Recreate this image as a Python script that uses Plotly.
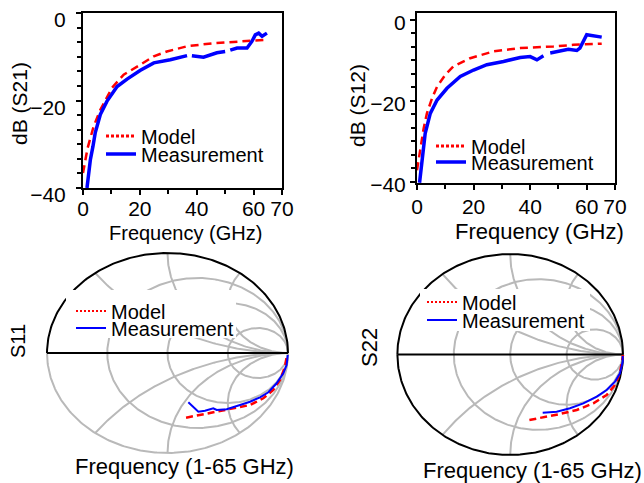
import numpy as np
import plotly.graph_objects as go

FONT = "Liberation Sans, Arial, sans-serif"
RED = "#FF0000"
BLUE = "#0000FF"
GRID = "#B9B9B9"

# ---------------- data: transmission (GHz, dB) ----------------
s21_model_f = [0, 1.6, 3.75, 6.1, 10.2, 14.3, 20.2, 24.9, 29.5, 36.6, 46, 55.4, 64.7]
s21_model_db = [-36.6, -30.9, -25.9, -22.1, -17.1, -14.1, -11.8, -9.9, -8.8, -7.6, -6.9, -6.5, -6.1]
s21_meas_f = [1.4, 2.0, 2.6, 3.5, 4.3, 6.1, 8.4, 12, 15.5, 20.2, 24.9, 30.7, 36.6, None,
              38.3, 40.1, 42.4, 47.1, 50, None, 51.8, 54.2, 57.7, 59.4, 60.6, 61.8, 63, 64.7]
s21_meas_db = [-40, -36.6, -33.5, -30.5, -27.4, -23.2, -20.2, -16.8, -15.1, -13.1, -11.4, -10.7, -9.75, None,
               -9.75, -9.9, -10.1, -9.1, -8.8, None, -8.5, -8.0, -8.0, -6.5, -5.0, -4.6, -5.3, -4.6]

s12_model_f = [0, 1.2, 2.35, 3.5, 5.3, 7.1, 10, 12.9, 18.8, 27.1, 36.5, 48.2, 55.3, 65.3]
s12_model_db = [-37.1, -31.3, -26.8, -23.1, -19.4, -16.5, -13.6, -11.5, -9.5, -7.8, -7.0, -6.6, -6.2, -5.9]
s12_meas_f = [0.9, 1.8, 2.9, 4.7, 7.1, 10.6, 15.3, 20, 24.7, 30.6, 36.5, 40, 42.4, 44.7, None,
              47.1, 50.6, 53.5, 56.5, 57.6, 60, 62.4, 65.3]
s12_meas_db = [-40.2, -34.6, -28.0, -23.1, -19.8, -16.9, -14.0, -12.4, -11.1, -10.3, -9.3, -9.1, -9.9, -8.9, None,
               -8.2, -7.8, -7.3, -7.6, -7.0, -3.7, -3.96, -4.3]

# ---------------- data: reflection coefficients (Re, Im) ----------------
s11_model_re = [0.154, 0.27, 0.408, 0.546, 0.685, 0.795, 0.878, 0.934, 0.975, 0.989]
s11_model_im = [-0.647, -0.62, -0.587, -0.553, -0.52, -0.453, -0.37, -0.27, -0.137, -0.037]
s11_meas_re = [0.173, 0.256, 0.311, 0.38, 0.408, 0.491, 0.602, 0.685, 0.768, 0.837, 0.906, 0.961, 0.989, 0.998]
s11_meas_im = [-0.493, -0.587, -0.577, -0.553, -0.57, -0.563, -0.52, -0.487, -0.443, -0.393, -0.303, -0.203, -0.12, -0.02]

s22_model_re = [0.17, 0.294, 0.441, 0.59, 0.737, 0.855, 0.929, 0.973, 0.997, 1.0]
s22_model_im = [-0.652, -0.625, -0.592, -0.552, -0.486, -0.403, -0.303, -0.187, -0.055, -0.005]
s22_meas_re = [0.288, 0.412, 0.53, 0.648, 0.767, 0.855, 0.929, 0.973, 0.997, 0.997]
s22_meas_im = [-0.579, -0.569, -0.535, -0.486, -0.42, -0.353, -0.27, -0.187, -0.072, -0.015]

# Smith chart grid values (normalized resistance / reactance)
smith_r_grid = [1 / 3, 1, 3]
smith_x_grid = [0.5, 1, 2]

x_ticks = [0, 20, 40, 60, 70]
y_ticks = [0, -20, -40]

fig = go.Figure()


def add_db_panel(xa, ya, lgs, mf, mdb, sf, sdb):
    fig.add_trace(go.Scatter(x=mf, y=mdb, mode="lines", xaxis=xa, yaxis=ya, showlegend=False,
                             line=dict(color=RED, width=2.5, dash="8px,5px")))
    fig.add_trace(go.Scatter(x=sf, y=sdb, mode="lines", xaxis=xa, yaxis=ya, showlegend=False,
                             line=dict(color=BLUE, width=3.5)))
    # legend entries
    fig.add_trace(go.Scatter(x=[None], y=[None], mode="lines", xaxis=xa, yaxis=ya, name="Model",
                             legend=lgs[0], line=dict(color=RED, width=3, dash="3px,2px")))
    fig.add_trace(go.Scatter(x=[None], y=[None], mode="lines", xaxis=xa, yaxis=ya, name="Measurement",
                             legend=lgs[1], line=dict(color=BLUE, width=3.5)))


def add_smith_panel(xa, ya, lgs, mre, mim, sre, sim, lower_black):
    th = np.linspace(0, 2 * np.pi, 361)
    # resistance circles
    for r in smith_r_grid:
        c, rad = r / (1 + r), 1 / (1 + r)
        fig.add_trace(go.Scatter(x=c + rad * np.cos(th), y=rad * np.sin(th), mode="lines",
                                 xaxis=xa, yaxis=ya, showlegend=False, hoverinfo="skip",
                                 line=dict(color=GRID, width=2)))
    # reactance arcs
    t = np.concatenate([np.linspace(0, 2, 200), np.geomspace(2, 1e4, 200)])
    for xv in smith_x_grid:
        for s in (1, -1):
            g = (t + 1j * s * xv - 1) / (t + 1j * s * xv + 1)
            fig.add_trace(go.Scatter(x=g.real, y=g.imag, mode="lines", xaxis=xa, yaxis=ya,
                                     showlegend=False, hoverinfo="skip",
                                     line=dict(color=GRID, width=2)))
    # outer boundary
    up = np.linspace(0, np.pi, 181)
    lo = np.linspace(np.pi, 2 * np.pi, 181)
    fig.add_trace(go.Scatter(x=np.cos(lo), y=np.sin(lo), mode="lines", xaxis=xa, yaxis=ya,
                             showlegend=False, hoverinfo="skip",
                             line=dict(color="black" if lower_black else GRID, width=2)))
    fig.add_trace(go.Scatter(x=np.cos(up), y=np.sin(up), mode="lines", xaxis=xa, yaxis=ya,
                             showlegend=False, hoverinfo="skip", line=dict(color="black", width=2)))
    # real axis
    fig.add_trace(go.Scatter(x=[-1, 1], y=[0, 0], mode="lines", xaxis=xa, yaxis=ya,
                             showlegend=False, hoverinfo="skip", line=dict(color="black", width=2)))
    # data
    fig.add_trace(go.Scatter(x=mre, y=mim, mode="lines", xaxis=xa, yaxis=ya, showlegend=False,
                             line=dict(color=RED, width=2.5, dash="7px,4px")))
    fig.add_trace(go.Scatter(x=sre, y=sim, mode="lines", xaxis=xa, yaxis=ya, showlegend=False,
                             line=dict(color=BLUE, width=2)))
    fig.add_trace(go.Scatter(x=[None], y=[None], mode="lines", xaxis=xa, yaxis=ya, name="Model",
                             legend=lgs[0], line=dict(color=RED, width=2, dash="2px,2px")))
    fig.add_trace(go.Scatter(x=[None], y=[None], mode="lines", xaxis=xa, yaxis=ya, name="Measurement",
                             legend=lgs[1], line=dict(color=BLUE, width=2)))


add_db_panel("x", "y", ("legend", "legend2"), s21_model_f, s21_model_db, s21_meas_f, s21_meas_db)
add_db_panel("x2", "y2", ("legend3", "legend4"), s12_model_f, s12_model_db, s12_meas_f, s12_meas_db)
add_smith_panel("x3", "y3", ("legend5", "legend6"), s11_model_re, s11_model_im, s11_meas_re, s11_meas_im, False)
add_smith_panel("x4", "y4", ("legend7", "legend8"), s22_model_re, s22_model_im, s22_meas_re, s22_meas_im, True)

W, H = 644, 483


def px(xp):
    return xp / W


def py(yp):
    return 1 - yp / H


def db_xaxis(dom, anchor, standoff):
    return dict(domain=dom, anchor=anchor, range=[0, 70], tickvals=x_ticks, ticks="outside", ticklen=5,
                tickwidth=1.5, tickcolor="black", showline=True, linewidth=2, linecolor="black", mirror=True,
                showgrid=False, zeroline=False, tickfont=dict(size=21, family=FONT, color="black"),
                ticklabelstandoff=standoff, automargin=False,
                minor=dict(dtick=10, tick0=0, ticks="outside", ticklen=4, tickwidth=1.5, tickcolor="black"),
                fixedrange=True)


def db_yaxis(dom, anchor, rng, standoff, shift):
    return dict(domain=dom, anchor=anchor, range=rng, tickvals=y_ticks, ticks="outside", ticklen=5,
                tickwidth=1.5, tickcolor="black", showline=True, linewidth=2, linecolor="black", mirror=True,
                showgrid=False, zeroline=False, tickfont=dict(size=21, family=FONT, color="black"),
                ticklabelstandoff=standoff, ticklabelshift=shift, ticklabeloverflow="allow",
                automargin=False,
                minor=dict(dtick=20 / 6, tick0=0, ticks="outside", ticklen=4, tickwidth=1.5, tickcolor="black"),
                fixedrange=True)


def hidden(dom, anchor, rng):
    return dict(domain=dom, anchor=anchor, range=rng, visible=False, fixedrange=True)


def leg(x, y):
    return dict(x=px(x), y=py(y), xanchor="left", yanchor="middle", bgcolor="rgba(0,0,0,0)", borderwidth=0,
                font=dict(size=20, family=FONT, color="black"))


fig.update_layout(
    width=W, height=H, margin=dict(l=0, r=0, t=0, b=0, autoexpand=False),
    paper_bgcolor="white", plot_bgcolor="white",
    font=dict(family=FONT, color="black"),
    xaxis=db_xaxis([px(83), px(282)], "y", -4),
    yaxis=db_yaxis([py(188), py(13)], "x", [-40, 0], 6, 7),
    xaxis2=db_xaxis([px(417), px(615)], "y2", -1),
    yaxis2=db_yaxis([py(183), py(13)], "x2", [-40.25, 1.65], 0, 3),
    xaxis3=hidden([px(43.4), px(291.6)], "y3", [-1.03, 1.03]),
    yaxis3=hidden([py(456), py(250)], "x3", [-1.03, 1.03]),
    xaxis4=hidden([px(394), px(626.4)], "y4", [-1.03, 1.03]),
    yaxis4=hidden([py(458), py(251)], "x4", [-1.03, 1.03]),
    legend=leg(101, 136),
    legend2=leg(101, 154),
    legend3=leg(431, 146),
    legend4=leg(431, 162),
    legend5=leg(71, 311),
    legend6=leg(71, 328),
    legend7=leg(422, 302),
    legend8=leg(422, 320),
    shapes=[
        # white backing behind the Smith-chart legends
        dict(type="rect", xref="paper", yref="paper", x0=px(66), x1=px(236), y0=py(338), y1=py(290),
             fillcolor="white", line=dict(width=0), layer="above"),
        dict(type="rect", xref="paper", yref="paper", x0=px(420), x1=px(590), y0=py(331), y1=py(289),
             fillcolor="white", line=dict(width=0), layer="above"),
    ],
)

ann = [
    ("dB (S21)", 19, 104, 21, -90),
    ("dB (S12)", 357, 106, 21, -90),
    ("Frequency (GHz)", 185, 233, 20, 0),
    ("Frequency (GHz)", 539, 231, 22, 0),
    ("S11", 18, 341, 20, -90),
    ("S22", 369, 348, 22, -90),
    ("Frequency (1-65 GHz)", 184, 466, 22, 0),
    ("Frequency (1-65 GHz)", 532, 470, 22, 0),
]
for text, x, y, size, ang in ann:
    fig.add_annotation(text=text, x=px(x), y=py(y), xref="paper", yref="paper", xanchor="center",
                       yanchor="middle", showarrow=False, textangle=ang,
                       font=dict(size=size, family=FONT, color="black"))

fig.write_html("out.html", config={"displayModeBar": False},
               post_script="document.body.style.margin='0';document.body.style.overflow='hidden';")
